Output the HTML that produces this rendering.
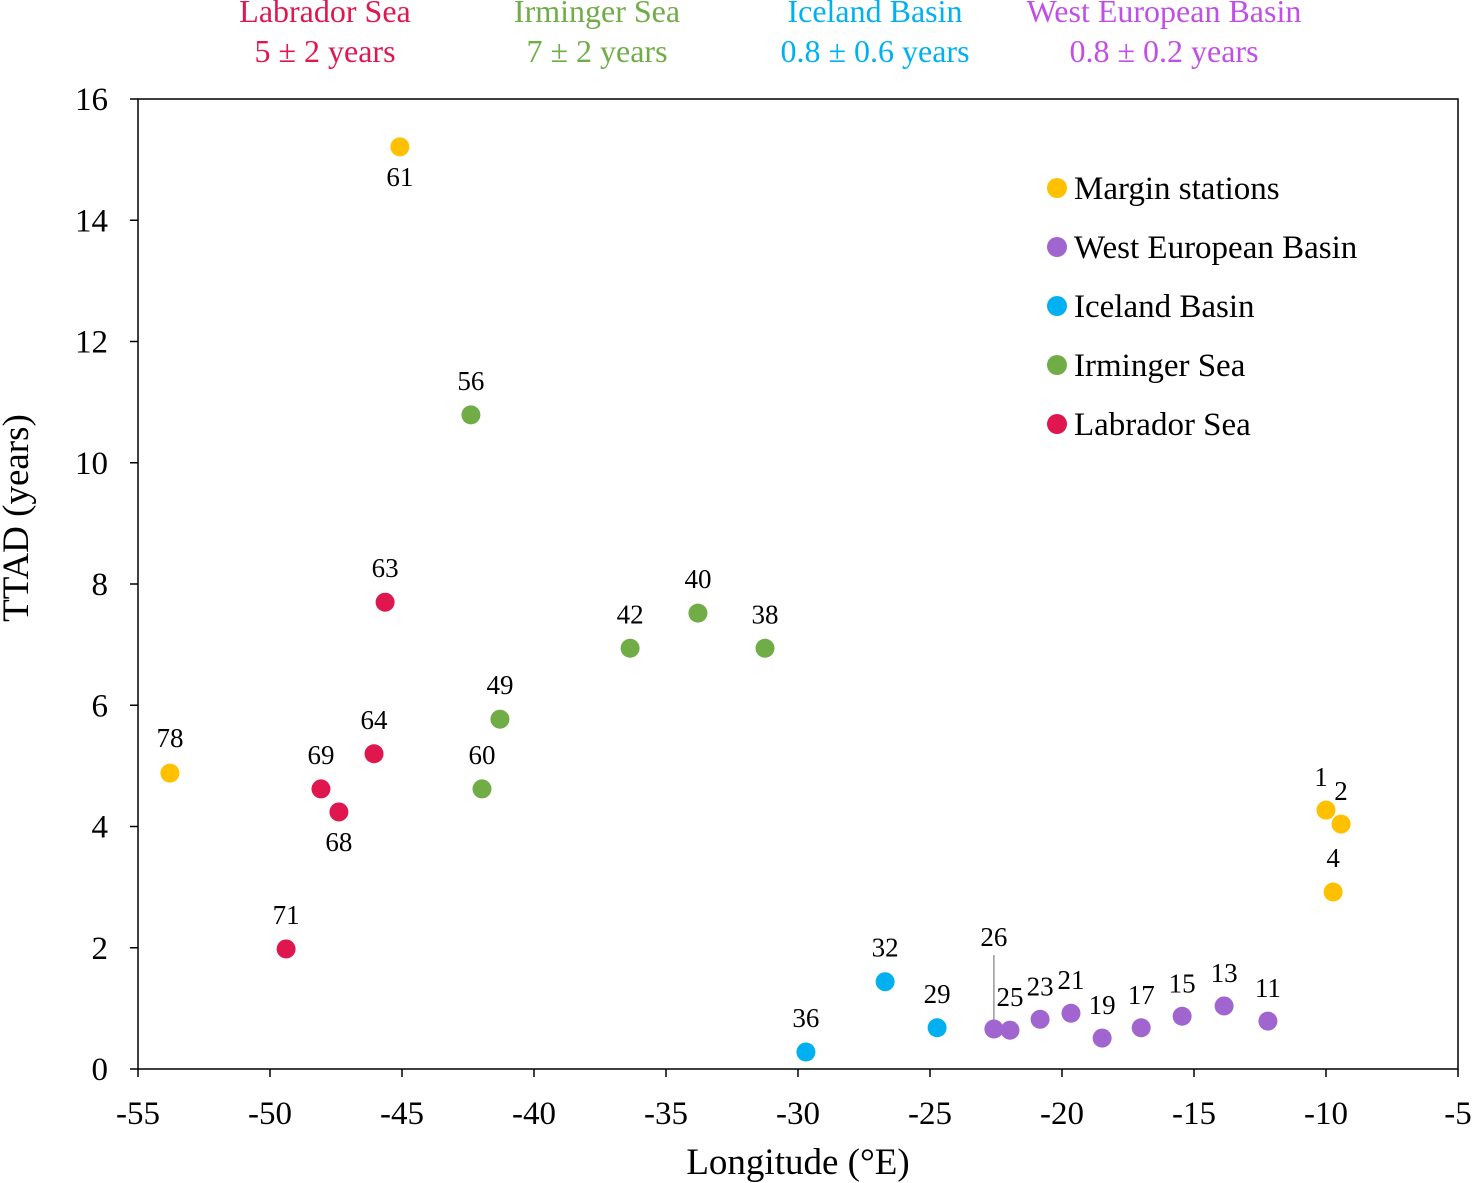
<!DOCTYPE html>
<html><head><meta charset="utf-8"><style>
html,body{margin:0;padding:0;background:#fff;}
svg{display:block;font-family:"Liberation Serif",serif;}
</style></head><body>
<svg id="chart" width="1472" height="1183" xmlns="http://www.w3.org/2000/svg"></svg>
<script>
const groupNames = ["Margin stations","West European Basin","Iceland Basin","Irminger Sea","Labrador Sea"];
const groupColors = ["#FFC000","#A065CE","#00B0F0","#70AD47","#E0174F"];
const stationIds = ["61","78","1","2","4","26","25","23","21","19","17","15","13","11","36","32","29","56","49","60","42","40","38","63","64","69","68","71"];
const stationGroup = [0,0,0,0,0,1,1,1,1,1,1,1,1,1,2,2,2,3,3,3,3,3,3,4,4,4,4,4];
const longitudes = [-45.08,-53.79,-10.0,-9.43,-9.73,-22.58,-21.97,-20.83,-19.66,-18.48,-17.0,-15.45,-13.86,-12.2,-29.70,-26.70,-24.73,-42.39,-41.29,-41.97,-36.36,-33.79,-31.25,-45.64,-46.06,-48.07,-47.39,-49.39];
const ttad = [15.21,4.88,4.27,4.04,2.92,0.66,0.64,0.82,0.92,0.51,0.68,0.87,1.04,0.79,0.28,1.44,0.68,10.79,5.77,4.62,6.94,7.52,6.94,7.70,5.20,4.62,4.24,1.98];
const xTicks = [-55,-50,-45,-40,-35,-30,-25,-20,-15,-10,-5];
const yTicks = [0,2,4,6,8,10,12,14,16];
// label placement (style): offset of label centre from point
const labelDx = [0,0,-5,0,0,0,0,0,0,0,0,0,0,0,0,0,0,0,0,0,0,0,0,0,0,0,0,0];
const labelDy = [30,-35,-33,-33,-34,-92,-33,-33,-33,-33,-33,-33,-33,-33,-34,-34,-34,-34,-34,-34,-34,-34,-34,-34,-34,-34,30,-34];

const X0=138,X1=1458,Y0=1069,Y1=99;
const xs=v=>X0+(v+55)/50*(X1-X0);
const ys=v=>Y0-v/16*(Y0-Y1);
const svg=document.getElementById('chart');
const NS="http://www.w3.org/2000/svg";
function mk(tag,attrs,txt){const e=document.createElementNS(NS,tag);for(const k in attrs)e.setAttribute(k,attrs[k]);if(txt!==undefined)e.textContent=txt;svg.appendChild(e);return e;}

let e=mk('rect',{x:X0,y:Y1,width:X1-X0,height:Y0-Y1,fill:'none',stroke:'#000','stroke-width':1.5});


xTicks.forEach(t=>{
  e=mk('line',{x1:xs(t),x2:xs(t),y1:Y0,y2:Y0+8,stroke:'#000','stroke-width':1.5});
  
  
  e=mk('text',{x:xs(t),y:Y0+55,'text-anchor':'middle','font-size':33},String(t));
  
  
});
yTicks.forEach(t=>{
  e=mk('line',{x1:X0-8,x2:X0,y1:ys(t),y2:ys(t),stroke:'#000','stroke-width':1.5});
  
  
  e=mk('text',{x:X0-30,y:ys(t)+11,'text-anchor':'end','font-size':33},String(t));
  
  
});
e=mk('text',{x:798,y:1174,'text-anchor':'middle','font-size':37},'Longitude (°E)');


e=mk('text',{x:28,y:518,'text-anchor':'middle','font-size':37,transform:'rotate(-90 28 518)'},'TTAD (years)');



e=mk('line',{x1:xs(longitudes[5]),x2:xs(longitudes[5]),y1:ys(ttad[5])-3,y2:ys(ttad[5])+labelDy[5]+18,stroke:'#999','stroke-width':1.5});



stationIds.forEach((id,i)=>{
  const cx=xs(longitudes[i]),cy=ys(ttad[i]);
  e=mk('circle',{cx:cx,cy:cy,r:9.5,fill:groupColors[stationGroup[i]]});
  
  
  e=mk('text',{x:cx+labelDx[i],y:cy+labelDy[i]+9,'text-anchor':'middle','font-size':27},id);
  
  
});

groupNames.forEach((n,i)=>{
  const y=188+i*59;
  e=mk('circle',{cx:1057,cy:y,r:10,fill:groupColors[i]});
  
  
  e=mk('text',{x:1074,y:y+11,'font-size':33},n);
  
  
});

const headNames=["Labrador Sea","Irminger  Sea","Iceland Basin","West European Basin"];
const headVals=["5 ± 2 years","7 ± 2 years","0.8 ± 0.6 years","0.8 ± 0.2 years"];
const headX=[325,597,875,1164];
const headColors=["#E0174F","#70AD47","#00B0F0","#C04FE8"];
headNames.forEach((n,i)=>{
  e=mk('text',{x:headX[i],y:22,'text-anchor':'middle','font-size':32,fill:headColors[i],'xml:space':'preserve'},n);
  
  
  e=mk('text',{x:headX[i],y:62,'text-anchor':'middle','font-size':32,fill:headColors[i]},headVals[i]);
  
  
});
</script>
</body></html>
